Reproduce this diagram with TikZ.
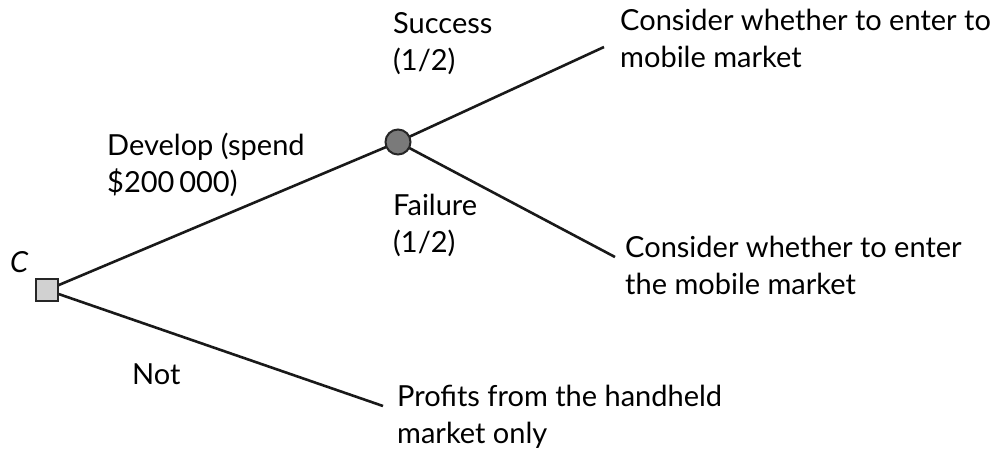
\documentclass[tikz,border=0pt]{standalone}
\usepackage{fontspec}
\setmainfont{Lato}
\begin{document}
\begin{tikzpicture}[x=1pt,y=-1pt,
  lbl/.style={anchor=base west,inner sep=0pt,align=left,
    font=\fontsize{29}{37}\selectfont},
  branch/.style={line width=2.6pt,black!90},
  choice/.style={draw=black!85,line width=2pt,fill=black!18,
    minimum size=22pt,inner sep=0pt,rectangle},
  chance/.style={draw=black!85,line width=2pt,fill=black!52,
    minimum size=25pt,inner sep=0pt,circle}]
\useasboundingbox (0,0) rectangle (991,451);

% end points of the branches
\coordinate (succ) at (604,47);
\coordinate (fail) at (615,257);
\coordinate (notend) at (383,406);

% decision and chance node positions
\coordinate (decpos) at (47,290);
\coordinate (chpos) at (398,142);

% branches (drawn first, nodes on top)
\draw[branch] (decpos) -- (chpos);
\draw[branch] (chpos) -- (succ);
\draw[branch] (chpos) -- (fail);
\draw[branch] (decpos) -- (notend);

\node[choice] (dec) at (decpos) {};
\node[chance] (ch) at (chpos) {};

% labels (anchored at the baseline of their last line)
\node[lbl,font=\fontsize{29}{37}\selectfont\itshape] (c) at (10,272) {C};
\node[lbl] (dev) at (107,192) {Develop (spend\\\$200\,000)};
\node[lbl] (suc) at (393,70) {Success\\(1/2)};
\node[lbl] (fai) at (393,252) {Failure\\(1/2)};
\node[lbl] (t1) at (620,67) {Consider whether to enter to\\mobile market};
\node[lbl] (t2) at (625,294) {Consider whether to enter\\the mobile market};
\node[lbl] (nt) at (132,384) {Not};
\node[lbl] (t3) at (397,443) {Profits from the handheld\\market only};
\end{tikzpicture}
\end{document}
